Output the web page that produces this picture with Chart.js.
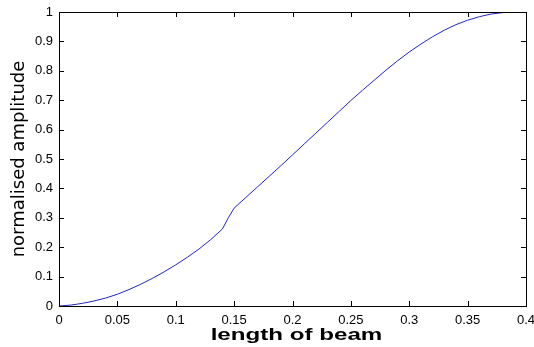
<!DOCTYPE html>
<html>
<head>
<meta charset="utf-8">
<script src="https://cdn.jsdelivr.net/npm/chart.js@4/dist/chart.umd.min.js"></script>
<style>
html,body{margin:0;padding:0;background:#fff;}
#wrap{width:534px;height:347px;}
</style>
</head>
<body>
<div id="wrap"><canvas id="c" width="534" height="347"></canvas></div>
<script>
const beamLength = [0, 0.01, 0.02, 0.03, 0.04, 0.05, 0.06, 0.07, 0.08, 0.09, 0.10, 0.11, 0.12, 0.13, 0.14, 0.145, 0.15, 0.16, 0.17, 0.18, 0.19, 0.20, 0.21, 0.22, 0.23, 0.24, 0.25, 0.26, 0.27, 0.28, 0.29, 0.30, 0.31, 0.32, 0.33, 0.34, 0.35, 0.36, 0.37, 0.38, 0.385];
const amplitude = [0, 0.003, 0.009, 0.017, 0.027, 0.04, 0.056, 0.074, 0.094, 0.116, 0.14, 0.166, 0.194, 0.226, 0.262, 0.30, 0.333, 0.369, 0.405, 0.441, 0.477, 0.514, 0.551, 0.588, 0.625, 0.662, 0.699, 0.734, 0.768, 0.802, 0.834, 0.864, 0.891, 0.916, 0.938, 0.957, 0.972, 0.984, 0.993, 0.998, 1.0];
const xTicks = [0, 0.05, 0.1, 0.15, 0.2, 0.25, 0.3, 0.35, 0.4];
const yTicks = [0, 0.1, 0.2, 0.3, 0.4, 0.5, 0.6, 0.7, 0.8, 0.9, 1];
const xTitle = 'length of beam';
const yTitle = 'normalised amplitude';

const points = beamLength.map((x, i) => ({x: x, y: amplitude[i]}));

const boxPlugin = {
  id: 'boxTicks',
  afterDraw(chart) {
    const ctx = chart.ctx;
    const a = chart.chartArea;
    const xs = chart.scales.x, ys = chart.scales.y;
    ctx.save();
    ctx.strokeStyle = '#000';
    ctx.lineWidth = 1;
    ctx.strokeRect(Math.round(a.left) + 0.5, Math.round(a.top) + 0.5, Math.round(a.right - a.left), Math.round(a.bottom - a.top));
    const tl = 5;
    ctx.beginPath();
    xTicks.forEach(v => {
      const p = Math.round(xs.getPixelForValue(v)) + 0.5;
      ctx.moveTo(p, a.bottom); ctx.lineTo(p, a.bottom - tl);
      ctx.moveTo(p, a.top); ctx.lineTo(p, a.top + tl);
    });
    yTicks.forEach(v => {
      const p = Math.round(ys.getPixelForValue(v)) + 0.5;
      ctx.moveTo(a.left, p); ctx.lineTo(a.left + tl, p);
      ctx.moveTo(a.right, p); ctx.lineTo(a.right - tl, p);
    });
    ctx.stroke();
    // x title, drawn wide like the reference
    ctx.fillStyle = '#000';
    ctx.font = 'bold 17px "Liberation Sans", Arial, sans-serif';
    ctx.textAlign = 'center';
    ctx.textBaseline = 'alphabetic';
    const cx = (a.left + a.right) / 2 + 4;
    ctx.translate(cx, 340);
    ctx.scale(1.42, 1);
    ctx.fillText(xTitle, 0, 0);
    ctx.restore();
  }
};

new Chart(document.getElementById('c'), {
  type: 'line',
  data: {
    datasets: [{
      data: points,
      borderColor: '#2323c8',
      borderWidth: 1,
      pointRadius: 0,
      tension: 0,
      fill: false
    }]
  },
  options: {
    responsive: false,
    animation: false,
    events: [],
    layout: {padding: {left: 0, right: 0, top: 12, bottom: 0}},
    plugins: {legend: {display: false}, tooltip: {enabled: false}},
    scales: {
      x: {
        type: 'linear',
        min: 0, max: 0.4,
        afterBuildTicks: s => { s.ticks = xTicks.map(v => ({value: v})); },
        afterFit: s => { s.height = 41; s.paddingRight = 8; s.paddingLeft = 0; },
        grid: {display: false, drawTicks: false},
        border: {display: false},
        ticks: {
          color: '#000', padding: 7, maxRotation: 0, autoSkip: false,
          font: {family: '"Liberation Sans", Arial, sans-serif', size: 13},
          callback: v => String(v)
        }
      },
      y: {
        type: 'linear',
        min: 0, max: 1,
        afterBuildTicks: s => { s.ticks = yTicks.map(v => ({value: v})); },
        afterFit: s => { s.width = 59; s.paddingTop = 0; s.paddingBottom = 0; },
        grid: {display: false, drawTicks: false},
        border: {display: false},
        title: {
          display: true, text: yTitle, color: '#000',
          font: {family: '"DejaVu Sans", sans-serif', size: 18},
          padding: {top: 9, bottom: 0}
        },
        ticks: {
          color: '#000', padding: 6, autoSkip: false,
          font: {family: '"Liberation Sans", Arial, sans-serif', size: 13},
          callback: v => String(v)
        }
      }
    }
  },
  plugins: [boxPlugin]
});
</script>
</body>
</html>
